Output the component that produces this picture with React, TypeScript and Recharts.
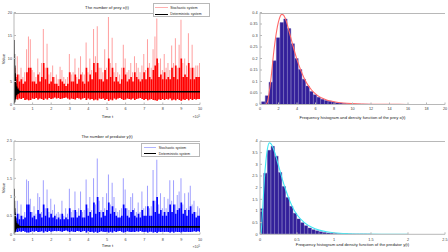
import { ComposedChart, Bar, Line, XAxis, YAxis } from "recharts";

// time axis: one column every 0.1 (x 10^5)
const timeTicks = [0, 1, 2, 3, 4, 5, 6, 7, 8, 9, 10];

const preyPeak = [
  16.5, 8, 10.5, 6.5, 8, 6, 7, 12, 14.8, 14.2,
  7.5, 7, 6, 10, 7, 9, 16.4, 8, 13.2, 6.5,
  7, 8.5, 6, 6.5, 5.5, 8.2, 7.5, 6, 5.5, 6,
  11, 6.5, 7, 10, 6, 8, 10.5, 7, 6.5, 13.5,
  7, 10, 7.5, 16.4, 10.5, 17, 8, 8, 7, 12,
  8, 19, 9, 14.5, 7, 9, 7, 6.5, 8, 13,
  10, 7, 7.5, 9, 7, 10.5, 9, 8, 7, 8.5,
  11, 7.5, 14.2, 9, 8, 12, 14.8, 18.7, 9, 10,
  7.5, 11, 8, 9, 7.5, 12.8, 9, 14.4, 8, 13,
  18.4, 9, 10, 8.5, 15.5, 8, 13, 8, 8.5, 8.5,
  9,
];
const preyHigh = [
  10, 6, 6.5, 5, 5.5, 4.5, 5, 7, 8, 8,
  5, 5, 4.5, 6.5, 5, 6, 9, 5.5, 8, 4.5,
  5, 6, 4.5, 4.5, 4, 5.5, 5, 4.5, 4, 4.5,
  7, 5, 5, 6.5, 4.5, 5.5, 6.5, 5, 4.5, 8,
  5, 6.5, 5.5, 9, 7, 9, 5.5, 5.5, 5, 7.5,
  5.5, 10, 6, 8, 5, 6, 5, 4.5, 5.5, 8,
  6.5, 5, 5.5, 6, 5, 7, 6, 5.5, 5, 5.5,
  7, 5.5, 8, 6, 5.5, 7.5, 8.5, 10, 6, 6.5,
  5.5, 7, 5.5, 6, 5.5, 8, 6, 8.5, 5.5, 8,
  10, 6, 6.5, 6, 9, 5.5, 8, 5.5, 6, 6,
  6,
];
const preyLow = [
  0.6, 1.2, 1.1, 1.3, 1.2, 1.4, 1.0, 1.1, 0.9, 1.0,
  1.3, 1.2, 1.4, 1.1, 1.3, 1.2, 1.0, 1.3, 1.1, 1.4,
  1.2, 1.3, 1.5, 1.3, 1.4, 1.2, 1.3, 1.4, 1.5, 1.3,
  1.1, 1.3, 1.2, 1.1, 1.4, 1.3, 1.1, 1.3, 1.4, 1.0,
  1.3, 1.1, 1.2, 0.9, 1.1, 0.9, 1.3, 1.2, 1.3, 1.0,
  1.2, 0.8, 1.1, 0.9, 1.3, 1.1, 1.3, 1.4, 1.2, 1.0,
  1.1, 1.3, 1.2, 1.1, 1.3, 1.0, 1.2, 1.3, 1.4, 1.2,
  1.0, 1.2, 0.9, 1.1, 1.2, 1.0, 0.9, 0.8, 1.1, 1.0,
  1.2, 1.0, 1.2, 1.1, 1.3, 0.9, 1.1, 0.9, 1.2, 1.0,
  0.8, 1.1, 1.0, 1.2, 0.9, 1.2, 1.0, 1.2, 1.1, 1.2,
  1.2,
];

const predPeak = [
  1.22, 0.6, 0.9, 0.55, 0.8, 0.5, 0.6, 1.47, 1.43, 0.95,
  0.6, 0.75, 0.55, 1.1, 1.0, 0.6, 1.45, 0.7, 1.2, 0.6,
  0.95, 0.65, 0.8, 0.55, 0.6, 0.55, 0.9, 0.5, 0.7, 0.55,
  1.22, 0.6, 0.65, 1.15, 0.6, 0.7, 1.15, 0.6, 0.65, 1.47,
  0.7, 1.0, 0.65, 1.5, 0.8, 2.03, 0.9, 0.65, 1.0, 0.7,
  1.1, 1.6, 0.8, 1.38, 1.0, 0.7, 0.6, 0.65, 0.7, 1.5,
  1.2, 0.7, 0.65, 1.0, 1.1, 0.7, 0.6, 0.85, 0.6, 1.15,
  0.7, 0.75, 1.3, 0.7, 0.75, 1.72, 0.9, 2.0, 0.8, 1.1,
  0.7, 1.0, 0.7, 0.95, 1.45, 0.9, 1.45, 0.8, 1.05, 1.15,
  1.5, 0.8, 1.1, 0.7, 1.12, 1.3, 0.8, 0.9, 0.6, 0.75,
  0.7,
];
const predHigh = [
  0.9, 0.45, 0.55, 0.4, 0.5, 0.4, 0.45, 0.8, 0.8, 0.6,
  0.45, 0.5, 0.4, 0.65, 0.55, 0.45, 0.8, 0.5, 0.7, 0.45,
  0.55, 0.45, 0.5, 0.4, 0.45, 0.4, 0.55, 0.4, 0.45, 0.4,
  0.7, 0.45, 0.45, 0.65, 0.45, 0.5, 0.65, 0.45, 0.45, 0.8,
  0.5, 0.6, 0.45, 0.85, 0.55, 1.0, 0.6, 0.45, 0.6, 0.5,
  0.65, 0.85, 0.55, 0.75, 0.6, 0.5, 0.45, 0.45, 0.5, 0.8,
  0.7, 0.5, 0.45, 0.6, 0.65, 0.5, 0.45, 0.55, 0.45, 0.65,
  0.5, 0.5, 0.75, 0.5, 0.5, 0.9, 0.6, 1.0, 0.55, 0.65,
  0.5, 0.6, 0.5, 0.6, 0.8, 0.6, 0.8, 0.55, 0.65, 0.7,
  0.85, 0.55, 0.65, 0.5, 0.65, 0.75, 0.55, 0.6, 0.45, 0.5,
  0.5,
];
const predLow = [
  0.02, 0.07, 0.06, 0.08, 0.07, 0.09, 0.07, 0.05, 0.05, 0.06,
  0.08, 0.07, 0.09, 0.06, 0.07, 0.08, 0.05, 0.08, 0.06, 0.09,
  0.07, 0.08, 0.09, 0.08, 0.09, 0.08, 0.07, 0.09, 0.1, 0.08,
  0.06, 0.08, 0.07, 0.06, 0.09, 0.08, 0.06, 0.08, 0.09, 0.05,
  0.08, 0.06, 0.07, 0.05, 0.07, 0.04, 0.06, 0.08, 0.07, 0.06,
  0.07, 0.05, 0.07, 0.05, 0.08, 0.06, 0.08, 0.09, 0.07, 0.05,
  0.06, 0.08, 0.07, 0.06, 0.07, 0.06, 0.08, 0.07, 0.09, 0.07,
  0.06, 0.07, 0.05, 0.07, 0.07, 0.05, 0.06, 0.04, 0.07, 0.06,
  0.07, 0.06, 0.07, 0.06, 0.05, 0.07, 0.05, 0.07, 0.06, 0.06,
  0.05, 0.07, 0.06, 0.07, 0.06, 0.06, 0.07, 0.08, 0.07, 0.08,
  0.07,
];

// deterministic system: damped start, then settles
const detTime = [0, 0.01, 0.02, 0.03, 0.04, 0.05, 0.06, 0.07, 0.08, 0.09, 0.1, 0.12, 0.14, 0.16, 0.18, 0.2, 0.23, 0.26, 0.3, 0.35, 10];
const detPrey = [14, 0.2, 11, 0.5, 8.5, 0.9, 6.8, 1.3, 5.5, 1.7, 4.6, 2.0, 3.9, 2.2, 3.4, 2.45, 3.0, 2.6, 2.85, 2.78, 2.78];
const detPred = [1.22, 0.02, 0.9, 0.04, 0.7, 0.07, 0.55, 0.1, 0.42, 0.13, 0.35, 0.15, 0.3, 0.17, 0.26, 0.18, 0.23, 0.19, 0.21, 0.2, 0.2];

// histograms
const preyHistTicks = [0, 2, 4, 6, 8, 10, 12, 14, 16, 18, 20];
const preyHistY = [0, 0.05, 0.1, 0.15, 0.2, 0.25, 0.3, 0.35, 0.4];
const preyHist = [
  0.012, 0.038, 0.097, 0.19, 0.29, 0.356, 0.372, 0.33, 0.264, 0.2,
  0.152, 0.11, 0.08, 0.057, 0.042, 0.031, 0.023, 0.017, 0.014, 0.011,
  0.008, 0.006, 0.0045, 0.0035, 0.0027, 0.002, 0.0016, 0.0012, 0.001, 0.0008,
];
const preyCurveX = [0.65, 0.85, 1.0, 1.15, 1.3, 1.45, 1.6, 1.8, 2.0, 2.2, 2.35, 2.5, 2.7, 2.9, 3.1, 3.3, 3.6, 4.0, 4.4, 4.8, 5.2, 5.6, 6.0, 6.5, 7.0, 7.5, 8.0, 9.0, 10, 11, 12, 14, 16, 19];
const preyCurveY = [0, 0.018, 0.055, 0.1, 0.155, 0.215, 0.265, 0.32, 0.36, 0.385, 0.392, 0.39, 0.377, 0.355, 0.325, 0.295, 0.25, 0.195, 0.15, 0.112, 0.083, 0.062, 0.046, 0.032, 0.023, 0.016, 0.012, 0.0065, 0.0038, 0.0023, 0.0014, 0.0006, 0.0003, 0.0001];

const predHistTicks = [0, 0.5, 1, 1.5, 2, 2.5];
const predHistY = [0, 0.5, 1, 1.5, 2, 2.5, 3, 3.5, 4];
const predHist = [
  1.1, 2.62, 3.6, 3.77, 3.35, 2.65, 2.05, 1.58, 1.2, 0.9,
  0.66, 0.5, 0.37, 0.27, 0.2, 0.15, 0.11, 0.08, 0.06, 0.045,
  0.034, 0.025, 0.019, 0.014, 0.011, 0.008, 0.006, 0.005, 0.004, 0.003,
];
const predCurveX = [0.015, 0.04, 0.06, 0.08, 0.1, 0.125, 0.15, 0.175, 0.2, 0.25, 0.3, 0.35, 0.4, 0.45, 0.5, 0.6, 0.7, 0.8, 0.9, 1.0, 1.2, 1.4, 1.7, 2.0];
const predCurveY = [0, 1.3, 2.4, 3.15, 3.65, 3.92, 3.88, 3.72, 3.5, 2.95, 2.38, 1.88, 1.45, 1.1, 0.84, 0.5, 0.3, 0.18, 0.11, 0.065, 0.024, 0.009, 0.003, 0.001];

const font = "'Liberation Sans', Arial, Helvetica, sans-serif";
const frame = "#b8b8b8";
const tickStyle = { fill: "#404040", fontSize: 3.8, fontFamily: font };

const Txt = ({ x, y, size = 4.2, rotate = false, children }: any) => (
  <div
    style={{
      position: "absolute",
      left: x,
      top: y,
      transform: `translate(-50%, -50%)${rotate ? " rotate(-90deg)" : ""}`,
      fontSize: size,
      lineHeight: 1,
      whiteSpace: "nowrap",
      fontFamily: font,
      color: "#222",
    }}
  >
    {children}
  </div>
);

const LegendBox = ({ x, y, w, h, rows, color }: any) => (
  <div
    style={{
      position: "absolute",
      left: x,
      top: y,
      width: w,
      height: h,
      boxSizing: "border-box",
      border: `0.6px solid ${frame}`,
      background: "#fff",
      fontFamily: font,
    }}
  >
    {["Stochastic system", "Deterministic system"].map((label, i) => (
      <div key={label} style={{ position: "absolute", left: 1.5, top: rows[i], height: 0, width: w }}>
        <div style={{ position: "absolute", left: 0, top: -0.6, width: 12.7, height: 1.2, background: i === 0 ? color : "#000" }} />
        <div style={{ position: "absolute", left: 15, top: -2, fontSize: 3.4, lineHeight: "4px", color: "#222", whiteSpace: "nowrap" }}>{label}</div>
      </div>
    ))}
  </div>
);

// top edge of the axes box
const TopEdge = ({ left, top, width }: any) => (
  <div style={{ position: "absolute", left, top, width, height: 0, borderTop: `1px solid ${frame}`, pointerEvents: "none" }} />
);

const RightAxis = (yDomain: number[], yTicks: number[]) => (
  <YAxis yAxisId="right" orientation="right" type="number" domain={yDomain} ticks={yTicks} tick={false} tickSize={-2} width={0}
    axisLine={{ stroke: frame }} tickLine={{ stroke: frame }} allowDataOverflow />
);

const TimePanel = ({ top, peak, high, low, det, yTicks, yMax, solid, spike, bottomMargin, tickGap }: any) => {
  const data = peak.map((p: number, i: number) => ({ t: i / 10, spike: [low[i], p], body: [low[i], high[i]] }));
  const detData = detTime.map((t, i) => ({ t, v: det[i] }));
  const plotTop = top === 0 ? 12.5 : 15;
  return (
    <div style={{ position: "absolute", left: 0, top, width: 224, height: 126 }}>
      <ComposedChart width={224} height={126} data={data} margin={{ top: plotTop, right: 24, bottom: 0, left: 0 }}>
        <XAxis xAxisId="main" dataKey="t" type="number" domain={[0, 10]} ticks={timeTicks} interval={0} allowDataOverflow
          tickSize={-2} tickMargin={tickGap} height={bottomMargin} axisLine={{ stroke: frame }} tickLine={{ stroke: frame }} tick={tickStyle} />
        <XAxis xAxisId="spike" orientation="top" dataKey="t" type="number" domain={[0, 10]} allowDataOverflow hide height={0} />
        <XAxis xAxisId="line" orientation="top" dataKey="t" type="number" domain={[0, 10]} allowDataOverflow hide height={0} />
        <YAxis yAxisId="main" type="number" domain={[0, yMax]} ticks={yTicks} interval={0} allowDataOverflow width={14}
          tickSize={-2} tickMargin={4} axisLine={{ stroke: frame }} tickLine={{ stroke: frame }} tick={tickStyle} />
        {RightAxis([0, yMax], yTicks)}
        <Bar xAxisId="spike" yAxisId="main" dataKey="spike" barSize={1} fill={spike} fillOpacity={0.55} isAnimationActive={false} />
        <Bar xAxisId="main" yAxisId="main" dataKey="body" barSize={2} fill={solid} isAnimationActive={false} />
        <Line xAxisId="line" yAxisId="main" data={detData} dataKey="v" stroke="#000" strokeWidth={1.6} dot={false} type="linear" isAnimationActive={false} />
      </ComposedChart>
      <TopEdge left={14} top={plotTop} width={186} />
    </div>
  );
};

const HistPanel = ({ top, hist, start, width, curveX, curveY, xMax, xTicks, yMax, yTicks, curveColor, tickGap }: any) => {
  const data = hist.map((d: number, i: number) => ({ x: start + i * width, d }));
  const curve = curveX.map((x: number, i: number) => ({ x, y: curveY[i] }));
  const plotTop = top === 0 ? 12.5 : 15;
  return (
    <div style={{ position: "absolute", left: 224, top, width: 224, height: 126 }}>
      <ComposedChart width={224} height={126} data={data} margin={{ top: plotTop, right: 3, bottom: 0, left: 0 }}>
        <XAxis xAxisId="main" dataKey="x" type="number" domain={[0, xMax]} ticks={xTicks} interval={0} allowDataOverflow
          tickSize={-2} tickMargin={tickGap} height={top === 0 ? 21.5 : 17.7} axisLine={{ stroke: frame }} tickLine={{ stroke: frame }} tick={tickStyle} />
        <XAxis xAxisId="line" orientation="top" dataKey="x" type="number" domain={[0, xMax]} allowDataOverflow hide height={0} />
        <YAxis yAxisId="main" type="number" domain={[0, yMax]} ticks={yTicks} interval={0} allowDataOverflow width={36}
          tickSize={-2} tickMargin={4.5} axisLine={{ stroke: frame }} tickLine={{ stroke: frame }} tick={tickStyle} />
        {RightAxis([0, yMax], yTicks)}
        <Bar xAxisId="main" yAxisId="main" dataKey="d" barSize={3.7} fill="#33209a" stroke="#5b4fae" strokeWidth={0.4} isAnimationActive={false} />
        <Line xAxisId="line" yAxisId="main" data={curve} dataKey="y" stroke={curveColor} strokeWidth={1.1} dot={false} type="monotone" isAnimationActive={false} />
      </ComposedChart>
      <TopEdge left={36} top={plotTop} width={185} />
    </div>
  );
};

const Exp = ({ x, y }: any) => (
  <div style={{ position: "absolute", left: x, top: y, transform: "translate(-100%, -50%)", fontSize: 3.6, fontFamily: font, color: "#404040", whiteSpace: "nowrap", lineHeight: 1 }}>
    ×10<span style={{ fontSize: 2.6, verticalAlign: "top" }}>5</span>
  </div>
);

export default function App() {
  return (
    <div style={{ position: "absolute", left: 0, top: 0, width: 448, height: 252, background: "#fff", overflow: "hidden" }}>
      <TimePanel top={0} peak={preyPeak} high={preyHigh} low={preyLow} det={detPrey} yTicks={[0, 5, 10, 15, 20]} yMax={20}
        solid="#ff0000" spike="#ff5050" bottomMargin={21.5} tickGap={5.2} />
      <TimePanel top={126} peak={predPeak} high={predHigh} low={predLow} det={detPred} yTicks={[0, 0.5, 1, 1.5, 2, 2.5]} yMax={2.5}
        solid="#0000ff" spike="#5050ff" bottomMargin={17.7} tickGap={6.4} />
      <HistPanel top={0} hist={preyHist} start={0.37} width={0.4} curveX={preyCurveX} curveY={preyCurveY} xMax={20} xTicks={preyHistTicks}
        yMax={0.4} yTicks={preyHistY} curveColor="#ff6a6a" tickGap={5.2} />
      <HistPanel top={126} hist={predHist} start={0.025} width={0.05} curveX={predCurveX} curveY={predCurveY} xMax={2.5} xTicks={predHistTicks}
        yMax={4} yTicks={predHistY} curveColor="#40e6f2" tickGap={6.4} />

      <Txt x={107} y={7.5}>The number of prey x(t)</Txt>
      <Txt x={107} y={137}>The number of predator y(t)</Txt>
      <Txt x={4} y={58.5} rotate>Value</Txt>
      <Txt x={4} y={187.5} rotate>Value</Txt>
      <Txt x={107.5} y={116.5}>Time t</Txt>
      <Txt x={107.5} y={246}>Time t</Txt>
      <Exp x={200} y={117.5} />
      <Exp x={200} y={248} />
      <Txt x={352.5} y={117.5}>Frequency histogram and density function of the prey x(t)</Txt>
      <Txt x={352.5} y={245}>Frequency histogram and density function of the predator y(t)</Txt>

      <LegendBox x={152.7} y={3.3} w={57.5} h={13.4} rows={[3.4, 10]} color="#ffb0b0" />
      <LegendBox x={141.3} y={142.7} w={58.7} h={14} rows={[4, 10]} color="#b0b4ff" />
    </div>
  );
}
